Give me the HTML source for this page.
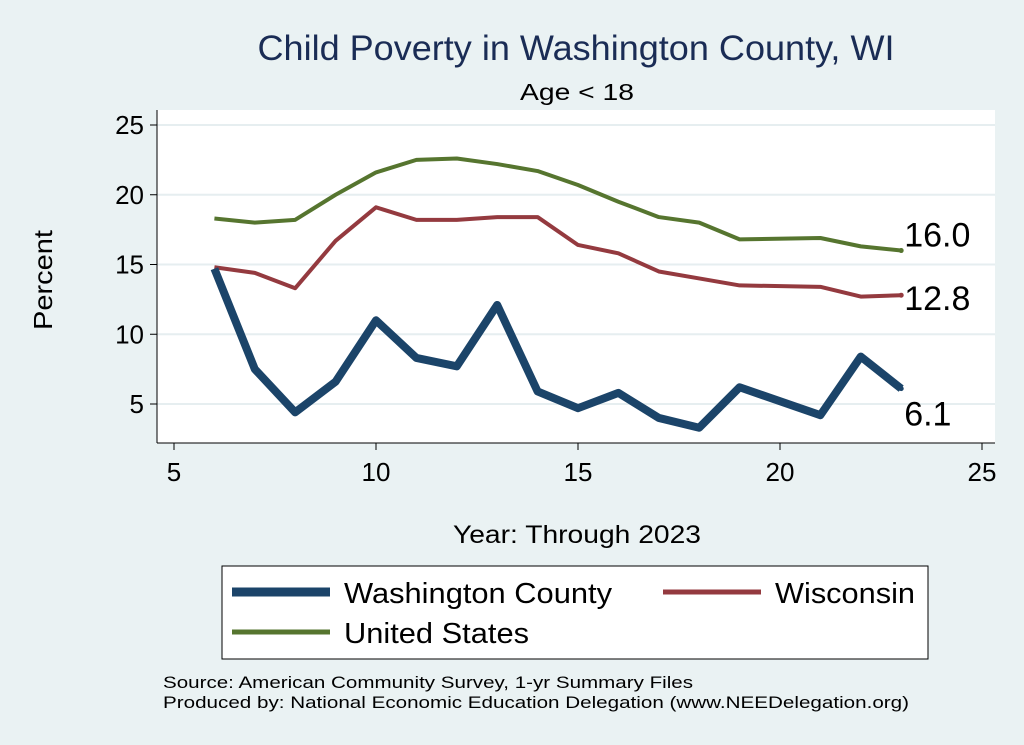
<!DOCTYPE html>
<html><head><meta charset="utf-8"><style>
body{margin:0;background:#eaf2f3;}
svg{display:block;font-family:"Liberation Sans",Arial,sans-serif;}
</style></head><body>
<svg id="c" width="1024" height="745">
<rect width="1024" height="745" fill="#eaf2f3"/>
<text x="576" y="60" font-size="35" fill="#1a2c55" text-anchor="middle" textLength="637" lengthAdjust="spacingAndGlyphs">Child Poverty in Washington County, WI</text>
<text x="577" y="100" font-size="23" text-anchor="middle" textLength="114" lengthAdjust="spacingAndGlyphs">Age &lt; 18</text>
<rect x="157" y="110" width="838" height="333" fill="#fff"/>
<g id="grid"></g>
<line x1="157" y1="110" x2="157" y2="443" stroke="#000"/>
<line x1="157" y1="443" x2="995" y2="443" stroke="#000"/>
<g id="ticks"></g>
<g id="series"></g>
<text x="52" y="280" font-size="26" text-anchor="middle" textLength="100" lengthAdjust="spacingAndGlyphs" transform="rotate(-90 52 280)">Percent</text>
<text x="577" y="543" font-size="25" text-anchor="middle" textLength="248" lengthAdjust="spacingAndGlyphs">Year: Through 2023</text>
<g>
<rect x="222" y="566" width="706" height="93" fill="#fff" stroke="#000"/>
<line x1="232" y1="592" x2="330" y2="592" stroke="#1b4469" stroke-width="9"/>
<text x="344" y="603" font-size="29" textLength="268" lengthAdjust="spacingAndGlyphs">Washington County</text>
<line x1="663" y1="592" x2="761" y2="592" stroke="#943a3f" stroke-width="5"/>
<text x="775" y="603" font-size="29" textLength="140" lengthAdjust="spacingAndGlyphs">Wisconsin</text>
<line x1="232" y1="632" x2="330" y2="632" stroke="#56752f" stroke-width="5"/>
<text x="344" y="643" font-size="29" textLength="185" lengthAdjust="spacingAndGlyphs">United States</text>
</g>
<text x="163" y="688" font-size="17" textLength="530" lengthAdjust="spacingAndGlyphs">Source: American Community Survey, 1-yr Summary Files</text>
<text x="163" y="708" font-size="17" textLength="746" lengthAdjust="spacingAndGlyphs">Produced by: National Economic Education Delegation (www.NEEDelegation.org)</text>
</svg>
<script>
const years=[6,7,8,9,10,11,12,13,14,15,16,17,18,19,21,22,23];
const washington=[14.7,7.5,4.4,6.6,11.0,8.3,7.7,12.1,5.9,4.7,5.8,4.0,3.3,6.2,4.2,8.4,6.1];
const wisconsin=[14.8,14.4,13.3,16.7,19.1,18.2,18.2,18.4,18.4,16.4,15.8,14.5,14.0,13.5,13.4,12.7,12.8];
const us=[18.3,18.0,18.2,20.0,21.6,22.5,22.6,22.2,21.7,20.7,19.5,18.4,18.0,16.8,16.9,16.3,16.0];
const xTicks=[5,10,15,20,25];
const yTicks=[5,10,15,20,25];
const NS='http://www.w3.org/2000/svg';
const X=v=>174+(v-5)*40.4;
const Y=v=>404-(v-5)*13.95;
function mk(t,a,p){const e=document.createElementNS(NS,t);for(const k in a)e.setAttribute(k,a[k]);p.appendChild(e);return e;}
const g=document.getElementById('grid'),tk=document.getElementById('ticks'),s=document.getElementById('series');
yTicks.forEach(v=>{
 const l=mk('line',{x1:157,x2:995,y1:Y(v),y2:Y(v),stroke:'#e6eef0','stroke-width':2},g);
 
 
 mk('line',{x1:150,x2:157,y1:Y(v),y2:Y(v),stroke:'#000'},tk);
 const t=mk('text',{x:144,y:Y(v)+9,'font-size':26,'text-anchor':'end'},tk);t.textContent=v;
 
 
});
xTicks.forEach(v=>{
 mk('line',{x1:X(v),x2:X(v),y1:443,y2:450,stroke:'#000'},tk);
 const t=mk('text',{x:X(v),y:481,'font-size':26,'text-anchor':'middle'},tk);t.textContent=v;
 
 
});
function line(vals,col,w,name,lab){
 const d=years.map((y,i)=>(i?'L':'M')+X(y)+' '+Y(vals[i])).join(' ');
 const p=mk('path',{d:d,fill:'none',stroke:col,'stroke-width':w,'stroke-linejoin':'round'},s);
 
 
 const n=years.length-1;
 mk('circle',{cx:X(years[n]),cy:Y(vals[n]),r:2.5,fill:col},s);
 const t=mk('text',{x:X(years[n])+lab[0],y:Y(vals[n])+lab[1],'font-size':34},s);
 t.textContent=vals[n].toFixed(1);
 
 
}
line(us,'#56752f',4,'us',[3,-4]);
line(wisconsin,'#943a3f',4,'wisconsin',[3,15]);
line(washington,'#1b4469',8,'washington',[3,37]);
</script>
</body></html>
